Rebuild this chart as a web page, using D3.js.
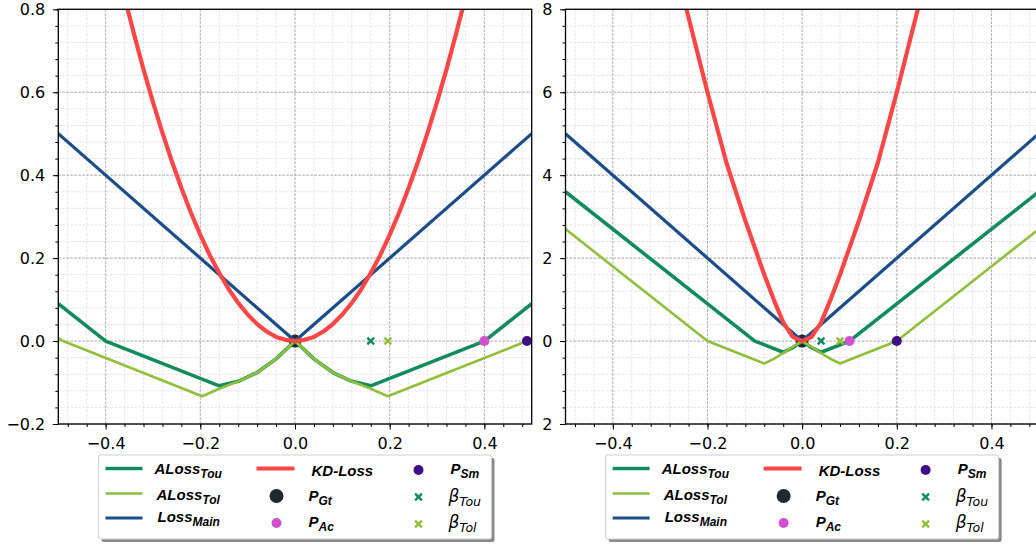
<!DOCTYPE html>
<html>
<head>
<meta charset="utf-8">
<script src="https://cdn.jsdelivr.net/npm/d3@7"></script>
<style>
  body { margin: 0; background: #fff; }
</style>
</head>
<body>
<div id="chart"></div>
<script>
// ---- data ----
const xTicks = [-0.4, -0.2, 0, 0.2, 0.4];
const xTickLabels = ["−0.4", "−0.2", "0.0", "0.2", "0.4"];
const leftYTicks = [-0.2, 0, 0.2, 0.4, 0.6, 0.8];
const leftYLabels = ["−0.2", "0.0", "0.2", "0.4", "0.6", "0.8"];
const rightYTicks = [-2, 0, 2, 4, 6, 8];
const rightYLabels = ["2", "0", "2", "4", "6", "8"];

// left panel
const leftTou = [[-0.5, 0.09], [-0.4, 0], [-0.16, -0.108], [-0.12, -0.097], [-0.08, -0.076], [-0.04, -0.043], [0, 0],
  [0.04, -0.043], [0.08, -0.076], [0.12, -0.097], [0.16, -0.108], [0.4, 0], [0.5, 0.09]];
const leftTol = [[-0.5, 0.007], [-0.49, 0], [-0.196, -0.133], [-0.16, -0.115], [-0.12, -0.097], [-0.08, -0.076], [-0.04, -0.043], [0, 0],
  [0.04, -0.043], [0.08, -0.076], [0.12, -0.097], [0.16, -0.115], [0.196, -0.133], [0.49, 0], [0.5, 0.007]];
const leftMain = [[-0.5, 0.5], [0, 0], [0.5, 0.5]];
const leftKD = [[-0.38, 0.924], [-0.36, 0.829], [-0.34, 0.74], [-0.32, 0.655], [-0.3, 0.576], [-0.28, 0.502], [-0.26, 0.433],
  [-0.24, 0.369], [-0.22, 0.31], [-0.2, 0.256], [-0.18, 0.207], [-0.16, 0.164], [-0.14, 0.125], [-0.12, 0.092], [-0.1, 0.064],
  [-0.08, 0.041], [-0.06, 0.023], [-0.04, 0.01], [-0.02, 0.003], [0, 0],
  [0.02, 0.003], [0.04, 0.01], [0.06, 0.023], [0.08, 0.041], [0.1, 0.064], [0.12, 0.092], [0.14, 0.125], [0.16, 0.164],
  [0.18, 0.207], [0.2, 0.256], [0.22, 0.31], [0.24, 0.369], [0.26, 0.433], [0.28, 0.502], [0.3, 0.576], [0.32, 0.655],
  [0.34, 0.74], [0.36, 0.829], [0.38, 0.924]];
const leftGt = [0, 0], leftAc = [0.4, 0], leftSm = [0.49, 0], leftBetaTou = [0.16, 0], leftBetaTol = [0.196, 0];

// right panel
const rightTou = [[-0.5, 3.6], [-0.1, 0], [-0.04, -0.27], [-0.02, -0.16], [0, 0], [0.02, -0.16], [0.04, -0.27], [0.1, 0], [0.5, 3.6]];
const rightTol = [[-0.5, 2.7], [-0.2, 0], [-0.08, -0.54], [-0.06, -0.43], [-0.04, -0.29], [-0.02, -0.14], [0, 0],
  [0.02, -0.14], [0.04, -0.29], [0.06, -0.43], [0.08, -0.54], [0.2, 0], [0.5, 2.7]];
const rightMain = [[-0.5, 5], [0, 0], [0.5, 5]];
const rightKD = [[-0.27, 9.2], [-0.24, 7.8], [-0.2, 6.0], [-0.16, 4.3], [-0.12, 2.9], [-0.08, 1.6], [-0.06, 1.0], [-0.04, 0.45],
  [-0.02, 0.1], [0, 0], [0.02, 0.1], [0.04, 0.45], [0.06, 1.0], [0.08, 1.6], [0.12, 2.9], [0.16, 4.3], [0.2, 6.0], [0.24, 7.8], [0.27, 9.2]];
const rightGt = [0, 0], rightAc = [0.1, 0], rightSm = [0.2, 0], rightBetaTou = [0.04, 0], rightBetaTol = [0.08, 0];

const col = {
  tou: "#148b5c", tol: "#8fbf3b", main: "#1d4d88", kd: "#ff4646",
  gt: "#1e2a2e", ac: "#d050d0", sm: "#3e0e86"
};

const width = 1036, height = 545;
const plotTop = 9.3, plotBottom = 424;

let svg = d3.select("#chart").append("svg")
  .attr("width", width)
  .attr("height", height)
  .style("font-family", "DejaVu Sans");

function xMark(g, cx, cy, color) {
  let s = 3.4;
  g.append("path")
    .attr("d", `M${cx - s},${cy - s}L${cx + s},${cy + s}M${cx - s},${cy + s}L${cx + s},${cy - s}`)
    .attr("stroke", color)
    .attr("stroke-width", 2.4)
    .attr("fill", "none");
}

function panel(p) {
  let x = d3.scaleLinear().domain([-0.5, 0.5]).range([p.x0, p.x1]);
  let y = d3.scaleLinear().domain(p.yDomain).range([plotBottom, plotTop]);
  let g = svg.append("g");

  g.append("rect")
    .attr("x", p.x0).attr("y", plotTop)
    .attr("width", p.x1 - p.x0).attr("height", plotBottom - plotTop)
    .attr("fill", "#fff");

  g.append("clipPath").attr("id", "clip" + p.id)
    .append("rect")
    .attr("x", p.x0).attr("y", plotTop)
    .attr("width", p.x1 - p.x0).attr("height", plotBottom - plotTop);

  let xMinor = d3.range(-12, 13).map(i => i * 0.04);
  let yMinor = d3.range(-5, 21).map(i => i * p.yStep);

  // minor grid
  g.selectAll(".gx").data(xMinor).enter().append("line")
    .attr("x1", d => x(d)).attr("x2", d => x(d))
    .attr("y1", plotTop).attr("y2", plotBottom)
    .attr("stroke", "#dcdde6").attr("stroke-width", 0.8).attr("stroke-dasharray", "2.6,1.4");
  g.selectAll(".gy").data(yMinor).enter().append("line")
    .attr("x1", p.x0).attr("x2", p.x1)
    .attr("y1", d => y(d)).attr("y2", d => y(d))
    .attr("stroke", "#dcdde6").attr("stroke-width", 0.8).attr("stroke-dasharray", "2.6,1.4");
  // major grid
  g.selectAll(".mx").data(xTicks).enter().append("line")
    .attr("x1", d => x(d)).attr("x2", d => x(d))
    .attr("y1", plotTop).attr("y2", plotBottom)
    .attr("stroke", "#a6a1a0").attr("stroke-width", 0.8).attr("stroke-dasharray", "2.6,1.4");
  g.selectAll(".my").data(p.yTicks).enter().append("line")
    .attr("x1", p.x0).attr("x2", p.x1)
    .attr("y1", d => y(d)).attr("y2", d => y(d))
    .attr("stroke", "#a6a1a0").attr("stroke-width", 0.8).attr("stroke-dasharray", "2.6,1.4");

  let line = d3.line().x(d => x(d[0])).y(d => y(d[1]));
  let plot = g.append("g").attr("clip-path", `url(#clip${p.id})`);

  plot.append("circle")
    .attr("cx", x(p.gt[0])).attr("cy", y(p.gt[1])).attr("r", 6.5)
    .attr("fill", col.gt);

  [[p.tou, col.tou, 3.6], [p.tol, col.tol, 2.6], [p.main, col.main, 3.2], [p.kd, col.kd, 4.2]].forEach(s => {
    plot.append("path")
      .datum(s[0])
      .attr("d", line)
      .attr("fill", "none")
      .attr("stroke", s[1])
      .attr("stroke-width", s[2])
      .attr("stroke-linejoin", "round");
  });

  g.append("circle").attr("cx", x(p.ac[0])).attr("cy", y(p.ac[1])).attr("r", 5).attr("fill", col.ac);
  g.append("circle").attr("cx", x(p.sm[0])).attr("cy", y(p.sm[1])).attr("r", 5).attr("fill", col.sm);
  xMark(g, x(p.betaTou[0]), y(p.betaTou[1]), col.tou);
  xMark(g, x(p.betaTol[0]), y(p.betaTol[1]), col.tol);

  // axes
  let ax = g.append("g").attr("transform", `translate(0,${plotBottom})`)
    .call(d3.axisBottom(x).tickValues(xTicks).tickFormat((d, i) => xTickLabels[i]).tickSize(5.5).tickPadding(8.5).tickSizeOuter(0));
  let axm = g.append("g").attr("transform", `translate(0,${plotBottom})`)
    .call(d3.axisBottom(x).tickValues(xMinor).tickFormat("").tickSize(3).tickSizeOuter(0));
  let ay = g.append("g").attr("transform", `translate(${p.x0},0)`)
    .call(d3.axisLeft(y).tickValues(p.yTicks).tickFormat((d, i) => p.yLabels[i]).tickSize(5.5).tickPadding(7.5).tickSizeOuter(0));
  let aym = g.append("g").attr("transform", `translate(${p.x0},0)`)
    .call(d3.axisLeft(y).tickValues(yMinor).tickFormat("").tickSize(3).tickSizeOuter(0));
  [ax, axm, ay, aym].forEach(a => {
    a.select(".domain").remove();
    a.selectAll("line").attr("stroke", "#000").attr("stroke-width", 1);
    a.selectAll("text").attr("font-family", "DejaVu Sans").attr("font-size", 16).attr("fill", "#000");
  });

  g.append("rect")
    .attr("x", p.x0).attr("y", plotTop)
    .attr("width", p.x1 - p.x0).attr("height", plotBottom - plotTop)
    .attr("fill", "none").attr("stroke", "#000").attr("stroke-width", 1.3);

  legend(p.x0 + (p.x1 - p.x0) / 2 - 196.5, 455);
}

function sub(t, main, subText, opts) {
  t.append("tspan").text(main);
  t.append("tspan").attr("font-size", opts.subSize).attr("dy", opts.dy).text(subText);
}

function legend(bx, by) {
  let g = svg.append("g");
  g.append("rect").attr("x", bx + 3).attr("y", by + 3).attr("width", 393).attr("height", 84)
    .attr("rx", 2).attr("fill", "#8a8a8a");
  g.append("rect").attr("x", bx).attr("y", by).attr("width", 393).attr("height", 84)
    .attr("rx", 2).attr("fill", "#fff").attr("stroke", "#cfcfcf").attr("stroke-width", 1);

  let lines = [[col.tou, 3.6, 468.5], [col.tol, 2.6, 493.5], [col.main, 3.2, 518]];
  lines.forEach(l => {
    g.append("line").attr("x1", bx + 7).attr("x2", bx + 44).attr("y1", l[2]).attr("y2", l[2])
      .attr("stroke", l[0]).attr("stroke-width", l[1]);
  });
  g.append("line").attr("x1", bx + 158).attr("x2", bx + 196).attr("y1", 468.5).attr("y2", 468.5)
    .attr("stroke", col.kd).attr("stroke-width", 4.2);
  g.append("circle").attr("cx", bx + 178).attr("cy", 496).attr("r", 7).attr("fill", col.gt);
  g.append("circle").attr("cx", bx + 178).attr("cy", 523).attr("r", 5).attr("fill", col.ac);
  g.append("circle").attr("cx", bx + 320).attr("cy", 470).attr("r", 5).attr("fill", col.sm);
  xMark(g, bx + 320, 497, col.tou);
  xMark(g, bx + 320, 524, col.tol);

  let bold = t => t.attr("font-family", "Liberation Sans").attr("font-weight", "bold")
    .attr("font-style", "italic").attr("font-size", 15).attr("fill", "#000");
  let so = { subSize: 12, dy: 3.5 };
  sub(bold(g.append("text").attr("x", bx + 56).attr("y", 474)), "ALoss", "Tou", so);
  sub(bold(g.append("text").attr("x", bx + 58).attr("y", 500)), "ALoss", "Tol", so);
  sub(bold(g.append("text").attr("x", bx + 59).attr("y", 522)), "Loss", "Main", so);
  bold(g.append("text").attr("x", bx + 213).attr("y", 476)).text("KD-Loss");
  sub(bold(g.append("text").attr("x", bx + 210).attr("y", 501)), "P", "Gt", so);
  sub(bold(g.append("text").attr("x", bx + 210).attr("y", 527)), "P", "Ac", so);
  sub(bold(g.append("text").attr("x", bx + 352).attr("y", 474)), "P", "Sm", so);

  let ital = t => t.attr("font-family", "DejaVu Sans").attr("font-style", "italic")
    .attr("font-size", 17).attr("fill", "#000");
  sub(ital(g.append("text").attr("x", bx + 350).attr("y", 502)), "β", "Tou", { subSize: 12.5, dy: 3.5 });
  sub(ital(g.append("text").attr("x", bx + 350).attr("y", 528)), "β", "Tol", { subSize: 12.5, dy: 3.5 });
}

panel({
  id: "L", x0: 58.3, x1: 531.7, yDomain: [-0.2, 0.8], yStep: 0.04,
  yTicks: leftYTicks, yLabels: leftYLabels,
  tou: leftTou, tol: leftTol, main: leftMain, kd: leftKD,
  gt: leftGt, ac: leftAc, sm: leftSm, betaTou: leftBetaTou, betaTol: leftBetaTol
});
panel({
  id: "R", x0: 565.5, x1: 1038.8, yDomain: [-2, 8], yStep: 0.4,
  yTicks: rightYTicks, yLabels: rightYLabels,
  tou: rightTou, tol: rightTol, main: rightMain, kd: rightKD,
  gt: rightGt, ac: rightAc, sm: rightSm, betaTou: rightBetaTou, betaTol: rightBetaTol
});
</script>
</body>
</html>
